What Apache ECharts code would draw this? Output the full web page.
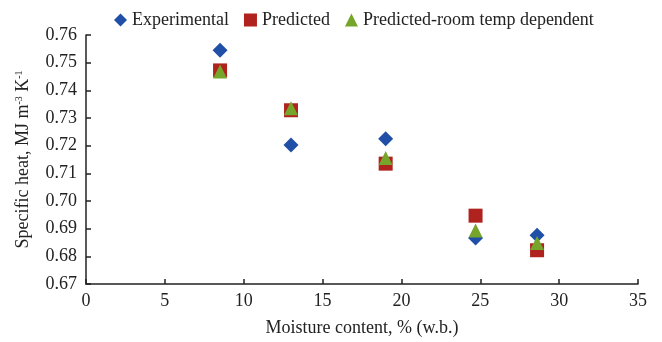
<!DOCTYPE html>
<html><head><meta charset="utf-8">
<script src="https://cdn.jsdelivr.net/npm/echarts@6/dist/echarts.min.js"></script>
<style>html,body{margin:0;padding:0;background:#fff}#c{width:662px;height:342px}</style>
</head><body><div id="c"></div>
<script>
const moisture = [8.5, 13.0, 19.0, 24.7, 28.6];
const experimental = [0.7545, 0.7202, 0.7225, 0.6866, 0.6876];
const predicted = [0.7472, 0.7328, 0.7135, 0.6947, 0.6822];
const predictedRoom = [0.7468, 0.7335, 0.7155, 0.6893, 0.6848];
const seriesNames = ['Experimental', 'Predicted', 'Predicted-room temp dependent'];
const xTicks = [0, 35, 5];
const yTicks = [0.67, 0.76, 0.01];

const font = '"Liberation Serif", "DejaVu Serif", serif';
const pair = (xs, ys) => xs.map((x, i) => [x, ys[i]]);
const chart = echarts.init(document.getElementById('c'));
chart.setOption({
  animation: false,
  textStyle: {fontFamily: font},
  legend: {
    top: 6, left: 109, width: 560,
    itemGap: 15, itemWidth: 13, itemHeight: 13,
    textStyle: {fontFamily: font, fontSize: 18, color: '#222'},
    data: [
      {name: seriesNames[0], icon: 'diamond'},
      {name: seriesNames[1], icon: 'rect'},
      {name: seriesNames[2], icon: 'triangle'}
    ]
  },
  grid: {left: 86, right: 24, top: 35, bottom: 58},
  xAxis: {
    type: 'value', min: xTicks[0], max: xTicks[1], interval: xTicks[2],
    name: 'Moisture content, % (w.b.)', nameLocation: 'middle', nameGap: 35,
    nameTextStyle: {fontFamily: font, fontSize: 18, color: '#222'},
    axisLine: {lineStyle: {color: '#222', width: 1.5}},
    axisTick: {inside: true, length: 5, lineStyle: {color: '#222', width: 1.5}},
    axisLabel: {fontFamily: font, fontSize: 18, color: '#222', margin: 8},
    splitLine: {show: false}
  },
  yAxis: {
    type: 'value', min: yTicks[0], max: yTicks[1], interval: yTicks[2],
    name: 'Specific heat, MJ m{sup|-3} K{sup|-1}', nameLocation: 'middle', nameGap: 53,
    nameTextStyle: {fontFamily: font, fontSize: 18, color: '#222',
      rich: {sup: {fontFamily: font, fontSize: 10, color: '#222', verticalAlign: 'top', padding: [0,0,9,0]}}},
    axisLine: {show: true, lineStyle: {color: '#222', width: 1.5}},
    axisTick: {show: true, inside: true, length: 5, lineStyle: {color: '#222', width: 1.5}},
    axisLabel: {fontFamily: font, fontSize: 18, color: '#222', margin: 9,
      formatter: v => v.toFixed(2)},
    splitLine: {show: false}
  },
  series: [
    {name: seriesNames[0], type: 'scatter', symbol: 'diamond', symbolSize: 15,
     itemStyle: {color: '#1f4fa6', opacity: 1}, data: pair(moisture, experimental)},
    {name: seriesNames[1], type: 'scatter', symbol: 'rect', symbolSize: 14,
     itemStyle: {color: '#b0221e', opacity: 1}, data: pair(moisture, predicted)},
    {name: seriesNames[2], type: 'scatter', symbol: 'triangle', symbolSize: 14,
     itemStyle: {color: '#76a52c', opacity: 1}, data: pair(moisture, predictedRoom)}
  ]
});
</script></body></html>
